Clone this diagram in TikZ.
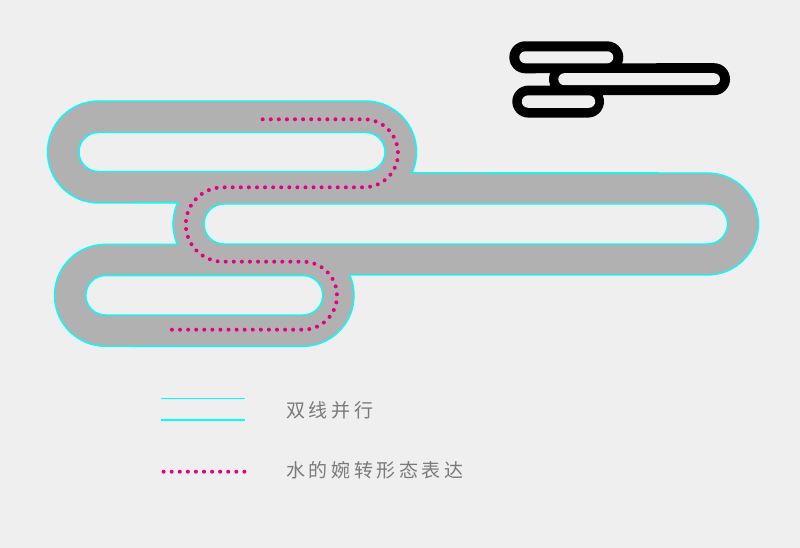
\documentclass[tikz,border=0pt]{standalone}
\usepackage{fontspec}
\usepackage{tikz}
\newfontfamily\cjk[LetterSpace=19]{Noto Sans CJK SC}
\definecolor{bgcol}{HTML}{EFEFEF}
\definecolor{bandcol}{HTML}{B1B1B1}
\definecolor{linecol}{HTML}{00FFFF}
\definecolor{dotcol}{HTML}{E5007F}
\tikzset{
  band/.style={fill=bandcol,draw=linecol,line width=1.4pt},
  hole/.style={fill=bgcol,draw=linecol,line width=1.4pt},
  dotline/.style={draw=dotcol,line width=4pt,line cap=round,dash pattern=on 0pt off 8.08pt},
  twoline/.style={draw=linecol,line width=1.4pt},
  legend/.style={anchor=west,inner sep=0pt,text=black!52,font=\cjk\fontsize{19}{19}\selectfont}
}

\begin{document}
\begin{tikzpicture}[x=1pt,y=1pt]
\useasboundingbox (0,0) rectangle (800,548);
\fill[bgcol] (0,0) rectangle (800,548);

\path[band] (98.5,447) -- (365.5,447) arc[start angle=90,end angle=-24,radius=51]
  -- (707.5,375) arc[start angle=90,end angle=-90,radius=51]
  -- (349.8,273) arc[start angle=23.5,end angle=-90,radius=51]
  -- (105.5,201.7) arc[start angle=-90,end angle=-270,radius=51]
  -- (177.2,303.7) arc[start angle=203.5,end angle=155.6,radius=51]
  -- (98.5,345) arc[start angle=-90,end angle=-270,radius=51] -- cycle;
\foreach \xa/\xb/\yc/\rr in {98.5/365.5/396/19.5,224/707.5/324/20,105.5/303/252.7/19.7}
  \path[hole] (\xa,\yc+\rr) -- (\xb,\yc+\rr) arc[start angle=90,end angle=-90,radius=\rr]
    -- (\xa,\yc-\rr) arc[start angle=-90,end angle=-270,radius=\rr] -- cycle;

\path[dotline] (262.7,428.7) -- (364,428.7) arc[start angle=90,end angle=-90,radius=34]
  -- (223,360.7) arc[start angle=90,end angle=270,radius=37.2]
  -- (303,286.3) arc[start angle=90,end angle=-90,radius=34] -- (168,218.3);

\fill[black] (525.3,506.7) -- (607.3,506.7) arc[start angle=90,end angle=-22,radius=16]
  -- (714,484.8) arc[start angle=90,end angle=-90,radius=16]
  -- (602.66,452.8) arc[start angle=23.6,end angle=-90,radius=16]
  -- (528.3,430.4) arc[start angle=-90,end angle=-270,radius=16]
  -- (550.34,462.4) arc[start angle=203.6,end angle=158,radius=16]
  -- (525.3,474.7) arc[start angle=-90,end angle=-270,radius=16] -- cycle;
\foreach \xa/\xb/\yc/\rr in {525.3/607.3/490.7/6,564.3/714/468.8/6,528/589/446.4/6.2}
  \fill[bgcol] (\xa,\yc+\rr) -- (\xb,\yc+\rr) arc[start angle=90,end angle=-90,radius=\rr]
    -- (\xa,\yc-\rr) arc[start angle=-90,end angle=-270,radius=\rr] -- cycle;

\coordinate (la) at (161,149.7);
\coordinate (lb) at (245,149.7);
\coordinate (lc) at (161,128);
\coordinate (ld) at (245,128);
\coordinate (le) at (163.6,76.3);
\coordinate (lf) at (245,76.3);
\path[twoline] (la) -- (lb);
\path[twoline] (lc) -- (ld);
\path[dotline] (le) -- (lf);

\node[legend] (twotext) at (286,138) {双线并行};
\node[legend] (dottext) at (286,78) {水的婉转形态表达};
\end{tikzpicture}
\end{document}
